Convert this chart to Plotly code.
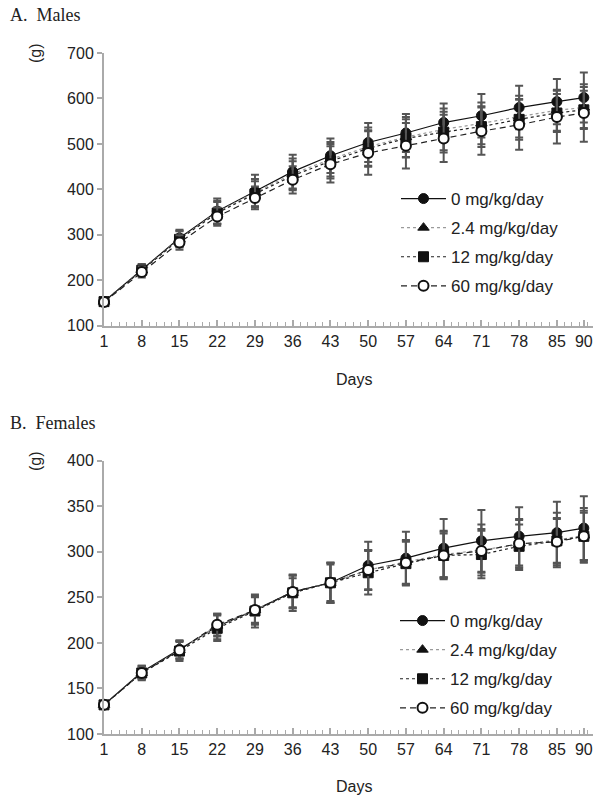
import plotly.graph_objects as go

days = [1, 8, 15, 22, 29, 36, 43, 50, 57, 64, 71, 78, 85, 90]
tick_days = [1, 8, 15, 22, 29, 36, 43, 50, 57, 64, 71, 78, 85, 90]
group_names = ["0 mg/kg/day", "2.4 mg/kg/day", "12 mg/kg/day", "60 mg/kg/day"]

# Males (g)
males_0 = [153, 224, 293, 352, 396, 439, 474, 503, 524, 547, 562, 580, 593, 602]
males_24 = [153, 222, 291, 350, 393, 434, 466, 494, 515, 532, 545, 560, 574, 580]
males_12 = [153, 222, 290, 348, 390, 430, 462, 490, 512, 526, 538, 554, 568, 575]
males_60 = [152, 218, 283, 340, 381, 421, 455, 480, 496, 512, 528, 542, 559, 568]
males_0_sd = [5, 12, 18, 28, 36, 37, 38, 43, 42, 42, 48, 48, 50, 55]
males_24_sd = [5, 12, 18, 25, 30, 34, 38, 42, 44, 46, 46, 46, 45, 45]
males_12_sd = [5, 12, 18, 24, 28, 32, 38, 40, 42, 45, 45, 45, 42, 42]
males_60_sd = [5, 12, 16, 20, 25, 30, 40, 48, 50, 52, 52, 55, 58, 63]

# Females (g)
females_0 = [132, 168, 193, 218, 236, 256, 266, 285, 293, 304, 312, 317, 321, 326]
females_24 = [132, 167, 192, 219, 236, 255, 266, 280, 289, 297, 302, 308, 313, 318]
females_12 = [132, 167, 191, 216, 235, 255, 266, 277, 287, 296, 297, 306, 312, 317]
females_60 = [132, 167, 192, 220, 236, 256, 266, 280, 288, 296, 301, 309, 311, 317]
females_0_sd = [3, 7, 10, 14, 16, 18, 22, 26, 29, 32, 34, 32, 34, 35]
females_24_sd = [3, 7, 10, 12, 14, 16, 20, 22, 24, 26, 28, 28, 30, 30]
females_12_sd = [3, 8, 11, 14, 18, 20, 22, 24, 24, 24, 26, 24, 24, 26]
females_60_sd = [3, 7, 9, 12, 15, 18, 22, 22, 24, 26, 24, 26, 26, 28]

styles = [
    dict(line=dict(color="#111111", width=1.2, dash="solid"),
         marker=dict(symbol="circle", size=10, color="#111111", line=dict(color="#111111", width=1))),
    dict(line=dict(color="#9a9a9a", width=1.2, dash="dot"),
         marker=dict(symbol="triangle-up", size=10, color="#111111", line=dict(color="#111111", width=1))),
    dict(line=dict(color="#222222", width=1.2, dash="3px,3px"),
         marker=dict(symbol="square", size=10, color="#111111", line=dict(color="#111111", width=1))),
    dict(line=dict(color="#222222", width=1.2, dash="6px,4px"),
         marker=dict(symbol="circle", size=10, color="white", line=dict(color="#111111", width=2))),
]

fig = go.Figure()

def add_panel(series, sds, xa, ya, legend):
    for i, (vals, sd) in enumerate(zip(series, sds)):
        st = styles[i]
        fig.add_trace(go.Scatter(
            x=days, y=vals, mode="lines+markers", name=group_names[i],
            line=st["line"], marker=st["marker"],
            error_y=dict(type="data", array=sd, visible=True, color="#555555",
                         thickness=2, width=4),
            xaxis=xa, yaxis=ya, legend=legend, legendgroup=legend + str(i),
            cliponaxis=False,
        ))

add_panel([males_0, males_24, males_12, males_60],
          [males_0_sd, males_24_sd, males_12_sd, males_60_sd], "x", "y", "legend")
add_panel([females_0, females_24, females_12, females_60],
          [females_0_sd, females_24_sd, females_12_sd, females_60_sd], "x2", "y2", "legend2")

W, H = 595, 797

def px(x):
    return x / W

def py(y):
    return 1 - y / H

axis_gray = "#aaaaaa"
tick_font = dict(family="Liberation Sans, Arial, sans-serif", size=16, color="#222222")

def xaxis_cfg(anchor):
    return dict(
        domain=[px(104), px(593)], range=[1, 91.7], anchor=anchor,
        tickmode="array", tickvals=tick_days, ticktext=[str(d) for d in tick_days],
        ticks="inside", ticklen=6, tickwidth=1.5, tickcolor=axis_gray,
        minor=dict(tick0=1, dtick=1.4, ticks="inside", ticklen=4, tickwidth=1, tickcolor=axis_gray),
        showline=True, linecolor=axis_gray, linewidth=2, showgrid=False, zeroline=False,
        tickfont=tick_font, automargin=False,
    )

def yaxis_cfg(anchor, rng, dtick, top_px, bot_px):
    return dict(
        domain=[py(bot_px), py(top_px)], range=rng, anchor=anchor,
        dtick=dtick, tick0=rng[0],
        ticks="outside", ticklen=5, tickwidth=1.5, tickcolor=axis_gray,
        showline=True, linecolor=axis_gray, linewidth=2, showgrid=False, zeroline=False,
        tickfont=tick_font, automargin=False,
    )

leg_common = dict(
    bgcolor="rgba(0,0,0,0)", font=dict(family="Liberation Sans, Arial, sans-serif", size=17, color="#222222"),
    xanchor="left", yanchor="top", tracegroupgap=4, itemwidth=45,
)

fig.update_layout(
    width=W, height=H, margin=dict(l=0, r=0, t=0, b=0),
    paper_bgcolor="white", plot_bgcolor="white", showlegend=True,
    xaxis=xaxis_cfg("y"), yaxis=yaxis_cfg("x", [100, 700], 100, 53, 325.7),
    xaxis2=xaxis_cfg("y2"), yaxis2=yaxis_cfg("x2", [100, 400], 50, 460.7, 734),
    legend=dict(x=px(396), y=py(181), **leg_common),
    legend2=dict(x=px(395), y=py(603), **leg_common),
)

serif = dict(family="Liberation Serif, Times New Roman, serif", size=18, color="#222222")
sans = dict(family="Liberation Sans, Arial, sans-serif", size=16, color="#222222")
ann = [
    dict(text="A.  Males", x=px(8), y=py(15), xanchor="left", yanchor="middle", font=serif),
    dict(text="B.  Females", x=px(8), y=py(423), xanchor="left", yanchor="middle", font=serif),
    dict(text="(g)", x=px(35), y=py(53), xanchor="center", yanchor="middle", textangle=-90, font=sans),
    dict(text="(g)", x=px(35), y=py(461), xanchor="center", yanchor="middle", textangle=-90, font=sans),
    dict(text="Days", x=px(354), y=py(379), xanchor="center", yanchor="middle", font=sans),
    dict(text="Days", x=px(354), y=py(786), xanchor="center", yanchor="middle", font=sans),
]
for a in ann:
    fig.add_annotation(xref="paper", yref="paper", showarrow=False, **a)

# remove the default 8px page margin so the figure fills the 595x797 window
fig.write_html(
    "out.html",
    config={"displayModeBar": False},
    post_script="document.body.style.margin='0';document.body.style.overflow='hidden';",
)
